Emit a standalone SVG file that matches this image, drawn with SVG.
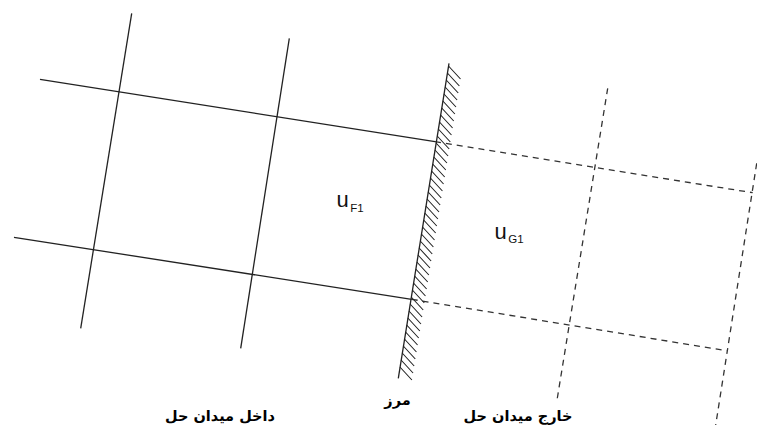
<svg xmlns="http://www.w3.org/2000/svg" width="757" height="427" viewBox="0 0 757 427">
<style>
.solid{stroke:#222;stroke-width:1.3;fill:none}
.dash{stroke:#333;stroke-width:1.3;fill:none;stroke-dasharray:6 5}
.hatch{stroke:#222;stroke-width:1.1;fill:none}
.u{font-family:"Liberation Sans",Arial,sans-serif;font-size:22px;fill:#111}
.sub{font-size:11.5px}
.fa{font-family:"DejaVu Sans",sans-serif;font-weight:bold;font-size:14.5px;fill:#000;text-anchor:middle}
</style>
<rect width="757" height="427" fill="#fff"/>
<g id="inside-grid">
<line class="solid" x1="131.7" y1="13.3" x2="80.7" y2="328.3"/>
<line class="solid" x1="289.3" y1="38.3" x2="240.7" y2="348.3"/>
<line class="solid" x1="40" y1="79.3" x2="435" y2="141.7"/>
<line class="solid" x1="14" y1="237.3" x2="411.7" y2="299.3"/>
</g>
<g id="outside-grid">
<line class="dash" x1="435" y1="141.7" x2="752.7" y2="192.7"/>
<line class="dash" x1="411.7" y1="299.3" x2="726.7" y2="350.7"/>
<line class="dash" x1="607.7" y1="88.3" x2="557.3" y2="398.3"/>
<line class="dash" x1="756.7" y1="163.3" x2="715.7" y2="425"/>
</g>
<g id="boundary">
<line class="solid" x1="449" y1="63.3" x2="398.3" y2="378.3"/>
<path class="hatch" d="M448.5 66l12 13m-13.13-6l12 13m-13.13-6l12 13m-13.13-6l12 13m-13.13-6l12 13m-13.13-6l12 13m-13.13-6l12 13m-13.13-6l12 13m-13.13-6l12 13m-13.13-6l12 13m-13.13-6l12 13m-13.13-6l12 13m-13.13-6l12 13m-13.13-6l12 13m-13.13-6l12 13m-13.13-6l12 13m-13.13-6l12 13m-13.13-6l12 13m-13.13-6l12 13m-13.13-6l12 13m-13.13-6l12 13m-13.13-6l12 13m-13.13-6l12 13m-13.13-6l12 13m-13.13-6l12 13m-13.13-6l12 13m-13.13-6l12 13m-13.13-6l12 13m-13.13-6l12 13m-13.13-6l12 13m-13.13-6l12 13m-13.13-6l12 13m-13.13-6l12 13m-13.13-6l12 13m-13.13-6l12 13m-13.13-6l12 13m-13.13-6l12 13m-13.13-6l12 13m-13.13-6l12 13m-13.13-6l12 13m-13.13-6l12 13m-13.13-6l12 13m-13.13-6l12 13m-13.13-6l12 13"/>
</g>
<g id="label-uF1"><text class="u" x="336.5" y="207">u<tspan class="sub" dx="1.5" dy="4.5">F1</tspan></text></g>
<g id="label-uG1"><text class="u" x="494.5" y="238.5">u<tspan class="sub" dx="1.5" dy="4.5">G1</tspan></text></g>
<g id="label-inside"><text class="fa" x="220" y="421">داخل میدان حل</text></g>
<g id="label-boundary"><text class="fa" x="397.5" y="405">مرز</text></g>
<g id="label-outside"><text class="fa" x="518" y="421">خارج میدان حل</text></g>
</svg>
